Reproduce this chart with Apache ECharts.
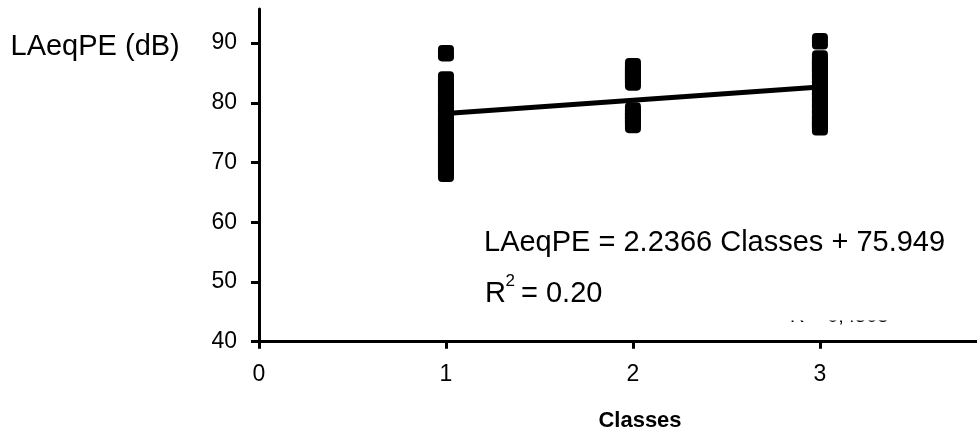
<!DOCTYPE html>
<html>
<head>
<meta charset="utf-8">
<script src="https://cdn.jsdelivr.net/npm/echarts@6/dist/echarts.min.js"></script>
<style>
html,body{margin:0;padding:0;background:#fff;}
#chart{width:977px;height:434px;}
</style>
</head>
<body>
<div id="chart"></div>
<script>
// ---- data ----
const class1Values = [68.1, 69, 70, 70.5, 71, 72, 72.5, 73, 74, 74.5, 75, 76, 76.5, 77, 78, 79, 79.5, 80, 81, 82, 82.5, 83, 83.9, 88.3];
const class2Values = [76.3, 77, 77.5, 78, 78.7, 83.4, 84, 84.5, 85, 85.5, 86.1];
const class3Values = [75.9, 76.5, 77, 78, 79, 80, 81, 82, 83, 84, 85, 86, 86.5, 87.4, 90.3];
const classes = [1, 2, 3];
const trendX = [1, 3];
const trendY = [78.19, 82.66];
const xTicks = [0, 1, 2, 3];
const yTicks = [40, 50, 60, 70, 80, 90];
const yTitle = 'LAeqPE (dB)';
const xTitle = 'Classes';
const eqText = 'LAeqPE = 2.2366 Classes + 75.949';
const r2Value = '= 0.20';
const hiddenText = 'R = 0,4503';

const FONT = '"Liberation Sans", Arial, sans-serif';

const scatterData = [];
[class1Values, class2Values, class3Values].forEach((vals, i) => {
  vals.forEach(v => scatterData.push([classes[i], v]));
});
const trendData = trendX.map((x, i) => [x, trendY[i]]);

const chart = echarts.init(document.getElementById('chart'), null, {renderer: 'canvas'});
chart.setOption({
  backgroundColor: '#fff',
  animation: false,
  grid: {left: 259, right: 0, top: 9, bottom: 92.3, containLabel: false},
  xAxis: {
    type: 'value', min: 0, max: 3.84,
    splitLine: {show: false},
    axisLine: {show: true, onZero: false, lineStyle: {color: '#000', width: 3}},
    axisTick: {show: true, inside: false, length: 7, lineStyle: {color: '#000', width: 3}, customValues: xTicks},
    axisLabel: {show: true, margin: 21, color: '#000', fontSize: 23, fontFamily: FONT, customValues: xTicks}
  },
  yAxis: {
    type: 'value', min: 40, max: 95.7,
    splitLine: {show: false},
    axisLine: {show: true, onZero: false, lineStyle: {color: '#000', width: 3}},
    axisTick: {show: true, inside: false, length: 8, lineStyle: {color: '#000', width: 3}, customValues: yTicks},
    axisLabel: {show: true, margin: 22, color: '#000', fontSize: 23, fontFamily: FONT, customValues: yTicks}
  },
  series: [
    {
      type: 'scatter',
      data: scatterData,
      symbol: 'roundRect',
      symbolSize: [16, 16.5],
      itemStyle: {color: '#000', opacity: 1},
      z: 2
    },
    {
      type: 'line',
      data: trendData,
      symbol: 'none',
      lineStyle: {color: '#000', width: 5},
      z: 3
    }
  ],
  graphic: [
    {type: 'text', x: 10.5, y: 47, style: {text: yTitle, font: '29px ' + FONT, fill: '#000', align: 'left', verticalAlign: 'middle'}},
    {type: 'text', x: 640, y: 421, style: {text: xTitle, font: 'bold 22px ' + FONT, fill: '#000', align: 'center', verticalAlign: 'middle'}},
    {type: 'text', x: 484, y: 243, style: {text: eqText, font: '29px ' + FONT, fill: '#000', align: 'left', verticalAlign: 'middle'}},
    {type: 'text', x: 485, y: 293.5, style: {text: 'R', font: '29px ' + FONT, fill: '#000', align: 'left', verticalAlign: 'middle'}},
    {type: 'text', x: 505.5, y: 281, style: {text: '2', font: '17px ' + FONT, fill: '#000', align: 'left', verticalAlign: 'middle'}},
    {type: 'text', x: 521, y: 293.5, style: {text: r2Value, font: '29px ' + FONT, fill: '#000', align: 'left', verticalAlign: 'middle'}},
    {type: 'text', x: 790, y: 316, z: 10, style: {text: hiddenText, font: '20px ' + FONT, fill: '#000', align: 'left', verticalAlign: 'middle'}},
    {type: 'rect', z: 11, shape: {x: 780, y: 295, width: 130, height: 25.5}, style: {fill: '#fff'}}
  ]
});
</script>
</body>
</html>
